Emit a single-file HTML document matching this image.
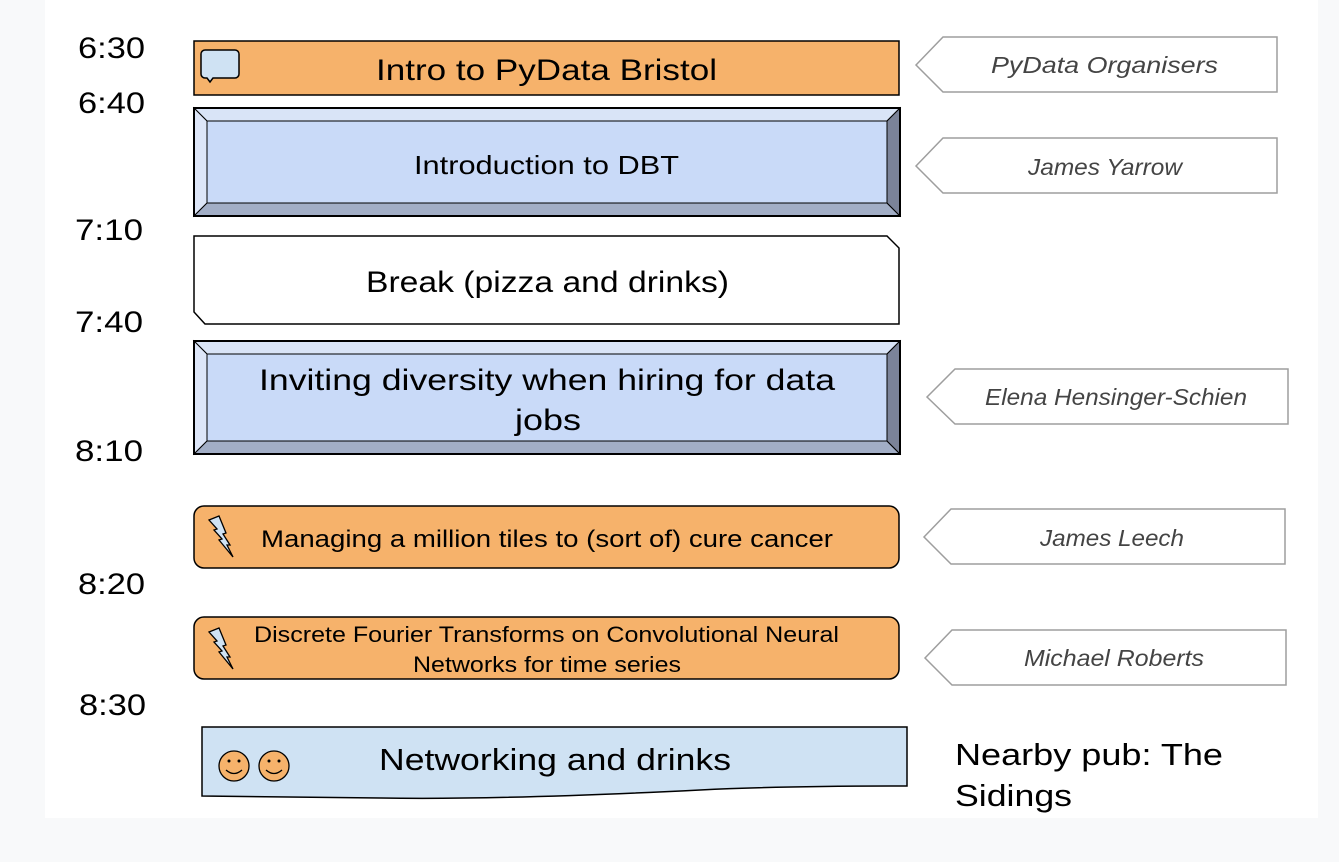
<!DOCTYPE html>
<html><head><meta charset="utf-8"><style>
html,body{margin:0;padding:0;background:#f8f9fa;}
svg{display:block;}
text{font-family:"Liberation Sans",sans-serif;}
</style></head><body>
<svg width="1339" height="862" viewBox="0 0 1339 862" xmlns="http://www.w3.org/2000/svg">
<rect x="0" y="0" width="1339" height="862" fill="#f8f9fa"/>
<rect x="45" y="0" width="1273" height="818" fill="#ffffff"/>

<!-- times -->
<g font-size="30" fill="#000">
<text x="78" y="58" textLength="67" lengthAdjust="spacingAndGlyphs">6:30</text>
<text x="78" y="113" textLength="67" lengthAdjust="spacingAndGlyphs">6:40</text>
<text x="75" y="240" textLength="68" lengthAdjust="spacingAndGlyphs">7:10</text>
<text x="75" y="332" textLength="68" lengthAdjust="spacingAndGlyphs">7:40</text>
<text x="75" y="461" textLength="68" lengthAdjust="spacingAndGlyphs">8:10</text>
<text x="78" y="594" textLength="67" lengthAdjust="spacingAndGlyphs">8:20</text>
<text x="79" y="715" textLength="67" lengthAdjust="spacingAndGlyphs">8:30</text>
</g>

<!-- box1 -->
<rect x="194" y="41" width="705" height="54" fill="#f6b26b" stroke="#000" stroke-width="1.5"/>
<path d="M205,50 h30 a4,4 0 0 1 4,4 v20 a4,4 0 0 1 -4,4 h-22 l-3,4 l-3,-4 h-2 a4,4 0 0 1 -4,-4 v-20 a4,4 0 0 1 4,-4z" fill="#cfe2f3" stroke="#000" stroke-width="1.5"/>
<text x="376" y="80" font-size="30" textLength="341" lengthAdjust="spacingAndGlyphs">Intro to PyData Bristol</text>

<!-- box2 bevel -->
<g stroke="#000" stroke-width="1">
<polygon points="194,108 900,108 887,121 207,121" fill="#d9e4f7"/>
<polygon points="194,108 207,121 207,203 194,216" fill="#dde6f8"/>
<polygon points="194,216 207,203 887,203 900,216" fill="#a2aec6"/>
<polygon points="900,108 900,216 887,203 887,121" fill="#7b8399"/>
<rect x="207" y="121" width="680" height="82" fill="#c9daf8"/>
</g>
<rect x="194" y="108" width="706" height="108" fill="none" stroke="#000" stroke-width="2"/>
<text x="414" y="174" font-size="26" textLength="265" lengthAdjust="spacingAndGlyphs">Introduction to DBT</text>

<!-- box3 -->
<polygon points="194,236 887,236 899,248 899,324 205,324 194,312" fill="#fff" stroke="#000" stroke-width="1.5"/>
<text x="366" y="292" font-size="30" textLength="363" lengthAdjust="spacingAndGlyphs">Break (pizza and drinks)</text>

<!-- box4 bevel -->
<g stroke="#000" stroke-width="1">
<polygon points="194,341 900,341 887,354 207,354" fill="#d9e4f7"/>
<polygon points="194,341 207,354 207,441 194,454" fill="#dde6f8"/>
<polygon points="194,454 207,441 887,441 900,454" fill="#a2aec6"/>
<polygon points="900,341 900,454 887,441 887,354" fill="#7b8399"/>
<rect x="207" y="354" width="680" height="87" fill="#c9daf8"/>
</g>
<rect x="194" y="341" width="706" height="113" fill="none" stroke="#000" stroke-width="2"/>
<text x="259" y="390" font-size="30" textLength="576" lengthAdjust="spacingAndGlyphs">Inviting diversity when hiring for data</text>
<text x="515" y="430" font-size="30" textLength="66" lengthAdjust="spacingAndGlyphs">jobs</text>

<!-- box5 -->
<rect x="194" y="506" width="705" height="62" rx="10" fill="#f6b26b" stroke="#000" stroke-width="1.5"/>
<polygon points="209,520 219,516 226,533 223,534 230,545 227,545 233,557 219,540 222,539 214,530 217,529" fill="#cfe2f3" stroke="#000" stroke-width="1.3"/>
<text x="261" y="547" font-size="24" textLength="572" lengthAdjust="spacingAndGlyphs">Managing a million tiles to (sort of) cure cancer</text>

<!-- box6 -->
<rect x="194" y="617" width="705" height="62" rx="10" fill="#f6b26b" stroke="#000" stroke-width="1.5"/>
<polygon points="209,632 219,628 226,645 223,646 230,657 227,657 233,669 219,652 222,651 214,642 217,641" fill="#cfe2f3" stroke="#000" stroke-width="1.3"/>
<text x="254" y="642" font-size="22" textLength="585" lengthAdjust="spacingAndGlyphs">Discrete Fourier Transforms on Convolutional Neural</text>
<text x="413" y="672" font-size="22" textLength="268" lengthAdjust="spacingAndGlyphs">Networks for time series</text>

<!-- box7 -->
<path d="M202,727 L907,727 L907,786 Q780,786 700,790 Q500,800 380,798 Q280,797 202,796 Z" fill="#cfe2f3" stroke="#000" stroke-width="1.5"/>
<g stroke="#000" stroke-width="1.3">
<circle cx="234" cy="766" r="15" fill="#f6b26b"/>
<circle cx="274" cy="766" r="15" fill="#f6b26b"/>
</g>
<g fill="#000"><circle cx="229" cy="761" r="1.5"/><circle cx="239" cy="761" r="1.5"/><circle cx="269" cy="761" r="1.5"/><circle cx="279" cy="761" r="1.5"/></g>
<path d="M226,770 q8,7 16,0 M266,770 q8,7 16,0" fill="none" stroke="#000" stroke-width="1.3"/>
<text x="379" y="770" font-size="31" textLength="352" lengthAdjust="spacingAndGlyphs">Networking and drinks</text>

<!-- callouts -->
<g fill="#fff" stroke="#9e9e9e" stroke-width="1.5">
<polygon points="916,65 943,37 1277,37 1277,92 943,92"/>
<polygon points="916,166 943,138 1277,138 1277,193 943,193"/>
<polygon points="927,397 955,369 1288,369 1288,424 955,424"/>
<polygon points="924,537 951,509 1285,509 1285,564 951,564"/>
<polygon points="925,658 952,630 1286,630 1286,685 952,685"/>
</g>
<g font-size="23" font-style="italic" fill="#444">
<text x="991" y="73" textLength="227" lengthAdjust="spacingAndGlyphs">PyData Organisers</text>
<text x="1028" y="175" textLength="154" lengthAdjust="spacingAndGlyphs">James Yarrow</text>
<text x="985" y="405" textLength="262" lengthAdjust="spacingAndGlyphs">Elena Hensinger-Schien</text>
<text x="1040" y="546" textLength="144" lengthAdjust="spacingAndGlyphs">James Leech</text>
<text x="1024" y="666" textLength="180" lengthAdjust="spacingAndGlyphs">Michael Roberts</text>
</g>

<text x="955" y="765" font-size="31" textLength="268" lengthAdjust="spacingAndGlyphs">Nearby pub: The</text>
<text x="955" y="806" font-size="31" textLength="117" lengthAdjust="spacingAndGlyphs">Sidings</text>
</svg>
</body></html>
